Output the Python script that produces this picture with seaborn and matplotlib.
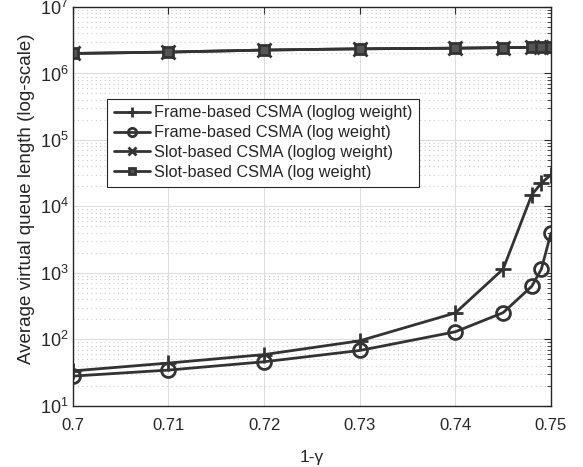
import matplotlib
matplotlib.use("Agg")
import matplotlib.pyplot as plt
import pandas as pd
import numpy as np
import seaborn as sns
from matplotlib.ticker import LogLocator, FixedLocator, FixedFormatter, NullFormatter

sns.set_style("white")
plt.rcParams['font.family'] = ['Liberation Sans', 'DejaVu Sans']
plt.rcParams['mathtext.fontset'] = 'custom'
plt.rcParams['mathtext.rm'] = 'Liberation Sans'
plt.rcParams['mathtext.it'] = 'Liberation Sans:italic'
plt.rcParams['mathtext.default'] = 'regular'

x_frame = [0.70, 0.71, 0.72, 0.73, 0.74, 0.745, 0.748, 0.749, 0.75]
frame_loglog = [33.5, 44, 59, 95, 250, 1140, 15000, 22400, 30000]
frame_log = [28, 34.5, 46, 68, 130, 252, 630, 1140, 3950]
x_slot = [0.70, 0.71, 0.72, 0.73, 0.74, 0.745, 0.748, 0.749, 0.75]
slot_loglog = [2.0e6, 2.1e6, 2.25e6, 2.35e6, 2.4e6, 2.45e6, 2.47e6, 2.48e6, 2.48e6]
slot_log = [2.0e6, 2.1e6, 2.25e6, 2.35e6, 2.4e6, 2.45e6, 2.47e6, 2.48e6, 2.48e6]
labels = ["Frame-based CSMA (loglog weight)", "Frame-based CSMA (log weight)",
          "Slot-based CSMA (loglog weight)", "Slot-based CSMA (log weight)"]
markers = ["+", "o", "x", "s"]

col = "#333333"
fig = plt.figure(figsize=(5.83, 4.67), dpi=100)
ax = fig.add_axes([0.125, 0.131, 0.82, 0.854])

series = [(x_frame, frame_loglog), (x_frame, frame_log), (x_slot, slot_loglog), (x_slot, slot_log)]
for (xs, ys), lab, m in zip(series, labels, markers):
    df = pd.DataFrame({"x": xs, "y": ys})
    kw = dict(markersize=10, markeredgewidth=2, markerfacecolor="none")
    if m == "+":
        kw["markersize"] = 11
    if m == "s":
        kw["markerfacecolor"] = "#555555"
        kw["markersize"] = 7
    sns.lineplot(data=df, x="x", y="y", ax=ax, color=col, linewidth=2, marker=m,
                 markeredgecolor=col, label=lab, **kw)

ax.set_yscale("log")
ax.set_xlim(0.7, 0.75)
ax.set_ylim(10, 1e7)
xt = [0.7, 0.71, 0.72, 0.73, 0.74, 0.75]
ax.xaxis.set_major_locator(FixedLocator(xt))
ax.xaxis.set_major_formatter(FixedFormatter(["0.7", "0.71", "0.72", "0.73", "0.74", "0.75"]))
ax.yaxis.set_major_locator(LogLocator(base=10, numticks=10))
ax.yaxis.set_minor_locator(LogLocator(base=10, subs=np.arange(2, 10), numticks=20))
ax.yaxis.set_minor_formatter(NullFormatter())
ax.grid(True, which="major", color="#dddddd", linewidth=0.8, linestyle="-")
ax.grid(True, which="minor", axis="y", color="#cccccc", linewidth=0.8, linestyle=(0, (1, 3)))
ax.tick_params(which="both", direction="in", top=True, right=True, labelsize=12, colors="#262626")
ax.tick_params(axis="y", which="major", labelsize=13, pad=3)
ax.tick_params(axis="x", which="major", pad=9)
ax.tick_params(which="major", length=5)
ax.tick_params(which="minor", length=3)
for s in ax.spines.values():
    s.set_color("#262626")
    s.set_linewidth(1)

ax.set_xlabel("1-γ", fontsize=12.5, color="#262626", labelpad=12)
ax.set_ylabel("Average virtual queue length (log-scale)", fontsize=13.5, color="#262626")
ax.yaxis.set_label_coords(-0.08, 0.52)

leg = ax.legend(loc="upper left", bbox_to_anchor=(0.055, 0.79), fontsize=11.7, frameon=True,
                fancybox=False, edgecolor="#262626", framealpha=1, handlelength=2.2,
                borderpad=0.4, labelspacing=0.3, handletextpad=0.3, markerscale=0.6)
leg.get_frame().set_linewidth(0.8)

fig.savefig("out.png", dpi=100)
